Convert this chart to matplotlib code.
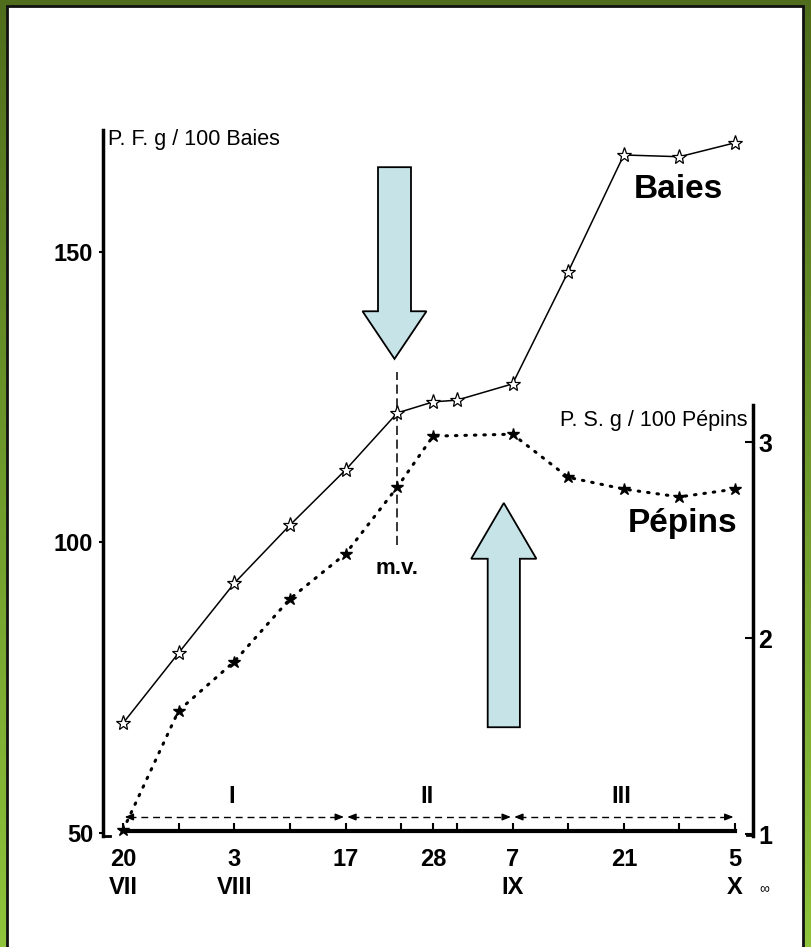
import numpy as np
import matplotlib
matplotlib.use('Agg')
import matplotlib.pyplot as plt
from matplotlib.patches import FancyArrow, Rectangle
from matplotlib.colors import LinearSegmentedColormap

plt.rcParams['font.family'] = ['Liberation Sans', 'DejaVu Sans']

# days counted from 20 July
dates_baies = [0, 7, 14, 21, 28, 34.5, 39, 42, 49, 56, 63, 70, 77]
baies = [68.9, 81.0, 93.0, 103.0, 112.5, 122.3, 124.2, 124.5, 127.3, 146.6, 166.7, 166.4, 168.8]

dates_pepins = [0, 7, 14, 21, 28, 34.5, 39, 49, 56, 63, 70, 77]
pepins = [1.02, 1.63, 1.88, 2.20, 2.43, 2.77, 3.03, 3.04, 2.82, 2.76, 2.72, 2.76]

tick_days = [0, 14, 28, 39, 49, 63, 77]
tick_days_lbl = ['20', '3', '17', '28', '7', '21', '5']
tick_months = ['VII', 'VIII', '', '', 'IX', '', 'X']
minor_days = [7, 21, 35, 42, 56, 70]

phases = [(0, 28), (28, 49), (49, 77)]
phase_lbl = ['I', 'II', 'III']
mv_day = 34.5

fig = plt.figure(figsize=(8.11, 9.47), dpi=100)

# green frame + white sheet
bg = fig.add_axes([0, 0, 1, 1], zorder=-10)
bg.axis('off')
bg.set_xlim(0, 811)
bg.set_ylim(947, 0)
cmap = LinearSegmentedColormap.from_list('g', ['#4f6d1c', '#6f9a2c', '#8fc43c'])
grad = np.linspace(0, 1, 256).reshape(-1, 1)
bg.imshow(grad, cmap=cmap, extent=(0, 811, 947, 0), aspect='auto')
bg.add_patch(Rectangle((7, 6), 796, 960, facecolor='white', edgecolor='#111111', lw=2))

ax = fig.add_axes([103 / 811, 111 / 947, 650 / 811, 706 / 947])
ax.patch.set_alpha(0)
ax.set_xlim(-2.52, 79.25)
ax.set_ylim(49.48, 171.0)

ax2 = ax.twinx()
ax2.set_ylim(0.99, 4.592)

# spines
for s in ['top', 'right']:
    ax.spines[s].set_visible(False)
for s in ['top', 'left', 'bottom']:
    ax2.spines[s].set_visible(False)
ax.spines['left'].set_linewidth(2.5)
ax.spines['bottom'].set_position(('data', 50.3))
ax.spines['bottom'].set_bounds(0, 77)
ax.spines['bottom'].set_linewidth(3)
ax2.spines['right'].set_linewidth(2.5)
ax2.spines['right'].set_bounds(0.99, 3.19)

# little feet at bottom of the vertical axes
ax.plot([-2.52, -1.7], [49.55, 49.55], color='black', lw=2, clip_on=False)
ax2.plot([78.5, 79.25], [0.995, 0.995], color='black', lw=2, clip_on=False)

ax.set_yticks([50, 100, 150])
ax.set_yticklabels(['50', '100', '150'])
ax.tick_params(axis='y', direction='out', length=3, width=1.5, pad=4,
               labelsize=17)
for t in ax.get_yticklabels():
    t.set_fontweight('bold')

ax2.set_yticks([1, 2, 3])
ax2.set_yticklabels(['1', '2', '3'])
ax2.tick_params(axis='y', direction='in', length=6, width=1.5, pad=4,
                labelsize=18)
for t in ax2.get_yticklabels():
    t.set_fontweight('bold')

ax.set_xticks(tick_days)
ax.set_xticklabels([a + '\n' + b for a, b in zip(tick_days_lbl, tick_months)],
                   linespacing=1.3)
ax.set_xticks(minor_days, minor=True)
ax.tick_params(axis='x', which='both', direction='in', length=6, width=1.5,
               pad=12, labelsize=17)
for t in ax.get_xticklabels():
    t.set_fontweight('bold')

# series
ax.plot(dates_baies, baies, color='black', lw=1.1, marker='*', markersize=11,
        markerfacecolor='white', markeredgecolor='black', markeredgewidth=0.9,
        zorder=4)
ax2.plot(dates_pepins, pepins, color='black', lw=2.2, linestyle=(0, (0.5, 2.6)),
         dash_capstyle='round', marker='*', markersize=9,
         markerfacecolor='black', markeredgecolor='black', zorder=4)

# maturity line
ax.plot([mv_day, mv_day], [99.6, 129.3], color='black', lw=1.1,
        linestyle=(0, (6, 3)))
ax.text(mv_day, 95.5, 'm.v.', ha='center', va='center', fontsize=16,
        fontweight='bold')

# phase arrows
y_ph = 52.75
for (a, b), lbl in zip(phases, phase_lbl):
    ax.plot([a + 0.8, b - 0.8], [y_ph, y_ph], color='black', lw=1,
            linestyle=(0, (5, 3.5)))
    for x0, x1 in [(a + 1.2, a + 0.2), (b - 1.2, b - 0.2)]:
        ax.annotate('', xy=(x1, y_ph), xytext=(x0, y_ph),
                    arrowprops=dict(arrowstyle='-|>,head_length=0.5,head_width=0.2',
                                    color='black', lw=1, shrinkA=0, shrinkB=0))
    ax.text((a + b) / 2 - 0.3, 56.2, lbl, ha='center', va='center',
            fontsize=17, fontweight='bold')

# big arrows
ax.add_patch(FancyArrow(34.15, 164.6, 0, -33.0, width=4.15, head_width=8.05,
                        head_length=8.2, length_includes_head=True,
                        facecolor='#c6e3e7', edgecolor='black', lw=1.3,
                        zorder=3))
ax.add_patch(FancyArrow(47.9, 68.2, 0, 38.6, width=4.05, head_width=8.2,
                        head_length=9.6, length_includes_head=True,
                        facecolor='#c6e3e7', edgecolor='black', lw=1.3,
                        zorder=3))

# texts
ax.text(0.008, 0.987, 'P. F. g / 100 Baies', transform=ax.transAxes,
        ha='left', va='center', fontsize=15.5)
ax.text(0.992, 0.589, 'P. S. g / 100 Pépins', transform=ax.transAxes,
        ha='right', va='center', fontsize=15.5)
ax.text(0.817, 0.904, 'Baies', transform=ax.transAxes, ha='left',
        va='baseline', fontsize=24, fontweight='bold')
ax.text(0.807, 0.431, 'Pépins', transform=ax.transAxes, ha='left',
        va='baseline', fontsize=24, fontweight='bold')
ax.text(1.01, -0.075, '∞', transform=ax.transAxes, ha='left', va='center',
        fontsize=10)

fig.savefig('out.png', dpi=100)
